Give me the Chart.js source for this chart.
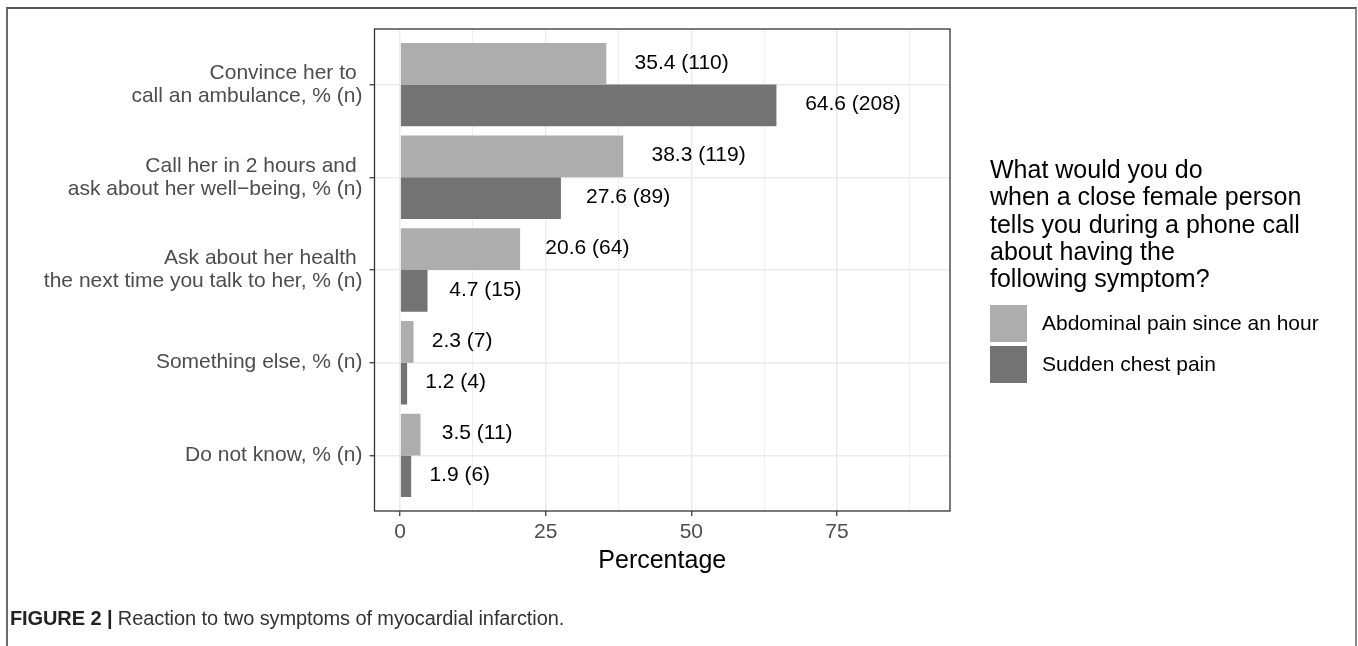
<!DOCTYPE html>
<html><head><meta charset="utf-8">
<script src="https://cdn.jsdelivr.net/npm/chart.js@4.4.1/dist/chart.umd.min.js"></script>
<style>
html,body{margin:0;padding:0;background:#fff;}
body{width:1358px;height:646px;position:relative;overflow:hidden;}
#frame{position:absolute;left:6px;top:7px;width:1351px;height:720px;border-left:2px solid #6a6a6a;border-top:2px solid #555;border-right:2px solid #8a8a8a;box-sizing:border-box;}
#wrap{position:absolute;left:0;top:0;width:1358px;height:646px;}
#caption{position:absolute;left:10px;top:607px;font-family:"Liberation Sans",Arial,sans-serif;font-size:20px;color:#333;white-space:nowrap;letter-spacing:-0.1px;}
#caption b{color:#222;}
</style></head><body>
<div id="frame"></div>
<div id="wrap"><canvas id="c" width="1358" height="646"></canvas></div>
<div id="caption"><b>FIGURE 2 |</b> Reaction to two symptoms of myocardial infarction.</div>
<script>
const categories = [
  ["Convince her to ", "call an ambulance, % (n)"],
  ["Call her in 2 hours and ", "ask about her well\u2212being, % (n)"],
  ["Ask about her health ", "the next time you talk to her, % (n)"],
  ["Something else, % (n)"],
  ["Do not know, % (n)"]
];
const seriesNames = ["Abdominal pain since an hour", "Sudden chest pain"];
const abdominalPct = [35.4, 38.3, 20.6, 2.3, 3.5];
const abdominalN = [110, 119, 64, 7, 11];
const chestPct = [64.6, 27.6, 4.7, 1.2, 1.9];
const chestN = [208, 89, 15, 4, 6];
const xMajorTicks = [0, 25, 50, 75];
const xMinorTicks = [12.5, 37.5, 62.5, 87.5];
const legendTitle = ["What would you do", "when a close female person", "tells you during a phone call", "about having the", "following symptom?"];

const FONT = '"Liberation Sans", Arial, sans-serif';

function mk(pct, n) {
  return pct.map((v, i) => ({ x: v, y: i, n: n[i] }));
}

const panelBorder = {
  id: 'panelBorder',
  afterDatasetsDraw(chart) {
    const { ctx, chartArea: a } = chart;
    ctx.save();
    ctx.strokeStyle = '#333';
    ctx.lineWidth = 1.3;
    ctx.strokeRect(a.left, a.top, a.right - a.left, a.bottom - a.top);
    ctx.restore();
  }
};

const barLabels = {
  id: 'barLabels',
  afterDatasetsDraw(chart) {
    const ctx = chart.ctx;
    ctx.save();
    ctx.font = '21px ' + FONT;
    ctx.fillStyle = '#000';
    ctx.textBaseline = 'middle';
    ctx.textAlign = 'left';
    chart.data.datasets.forEach((ds, di) => {
      const meta = chart.getDatasetMeta(di);
      meta.data.forEach((bar, i) => {
        const d = ds.data[i];
        const t = d.x.toFixed(1) + ' (' + d.n + ')';
        const w = ctx.measureText(t).width;
        ctx.fillText(t, bar.x + 0.3 * w, bar.y - 1);
      });
    });
    ctx.restore();
  }
};

const customLegend = {
  id: 'customLegend',
  afterDraw(chart) {
    const { ctx, chartArea: a } = chart;
    const x0 = a.right + 40;
    const cy = (a.top + a.bottom) / 2;
    ctx.save();
    ctx.fillStyle = '#000';
    ctx.font = '25px ' + FONT;
    ctx.textAlign = 'left';
    ctx.textBaseline = 'alphabetic';
    legendTitle.forEach((line, i) => {
      ctx.fillText(line, x0, cy - 92 + i * 27.3);
    });
    const key = 37, gap = 4;
    let ky = cy + 35;
    ctx.font = '21px ' + FONT;
    ctx.textBaseline = 'middle';
    chart.data.datasets.forEach((ds) => {
      ctx.fillStyle = ds.backgroundColor;
      ctx.fillRect(x0, ky, key, key);
      ctx.fillStyle = '#000';
      ctx.fillText(ds.label, x0 + key + 15, ky + key / 2 + 1);
      ky += key + gap;
    });
    ctx.restore();
  }
};

new Chart(document.getElementById('c'), {
  type: 'bar',
  data: {
    datasets: [
      { label: seriesNames[0], data: mk(abdominalPct, abdominalN), backgroundColor: '#adadad', borderWidth: 0 },
      { label: seriesNames[1], data: mk(chestPct, chestN), backgroundColor: '#737373', borderWidth: 0 }
    ]
  },
  options: {
    indexAxis: 'y',
    responsive: false,
    animation: false,
    barPercentage: 1,
    categoryPercentage: 0.9,
    layout: { padding: { top: 29, right: 408, bottom: 66, left: 0 } },
    plugins: { legend: { display: false }, tooltip: { enabled: false } },
    scales: {
      x: {
        type: 'linear',
        min: -4.4,
        max: 94.4,
        offset: false,
        afterBuildTicks(scale) {
          scale.ticks = [...xMajorTicks, ...xMinorTicks].sort((p, q) => p - q).map(v => ({ value: v }));
        },
        afterFit(scale) { scale.height = 69; },
        ticks: {
          autoSkip: false,
          maxRotation: 0,
          padding: 4,
          color: '#4d4d4d',
          font: { family: FONT, size: 21 },
          callback: (v) => xMajorTicks.includes(v) ? String(v) : ''
        },
        grid: {
          offset: false,
          color: '#ebebeb',
          lineWidth: (c) => (c.tick && xMajorTicks.includes(c.tick.value)) ? 1.5 : 0.8,
          tickLength: 5,
          tickWidth: 1.2,
          tickColor: (c) => (c.tick && xMajorTicks.includes(c.tick.value)) ? '#333' : 'rgba(0,0,0,0)'
        },
        border: { display: false },
        title: {
          display: true,
          text: 'Percentage',
          color: '#000',
          font: { family: FONT, size: 25 },
          padding: { top: 0, bottom: 4 }
        }
      },
      y: {
        type: 'linear',
        reverse: true,
        offset: false,
        min: -0.6,
        max: 4.6,
        afterBuildTicks(scale) {
          scale.ticks = categories.map((_, i) => ({ value: i }));
        },
        afterFit(scale) { scale.width = 374.5; },
        ticks: {
          autoSkip: false,
          padding: 7,
          color: '#4d4d4d',
          font: { family: FONT, size: 21, lineHeight: 1.1 },
          callback: (v) => categories[v]
        },
        grid: {
          offset: false,
          color: '#ebebeb',
          lineWidth: 1.5,
          tickLength: 5,
          tickWidth: 1.2,
          tickColor: '#333'
        },
        border: { display: false }
      }
    }
  },
  plugins: [panelBorder, barLabels, customLegend]
});
</script>
</body></html>
